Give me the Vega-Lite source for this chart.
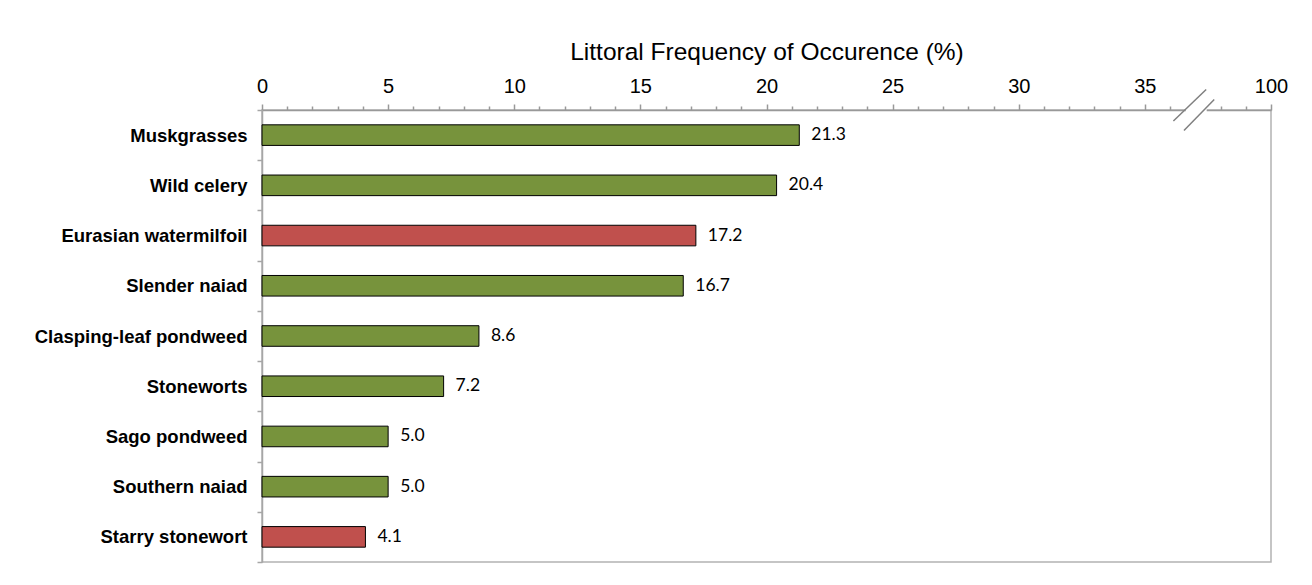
{
  "$schema": "https://vega.github.io/schema/vega-lite/v6.json",
  "width": 1009,
  "height": 452,
  "padding": {"left": 5, "top": 5, "right": 5, "bottom": 5},
  "background": "white",
  "config": {
    "font": "Liberation Sans",
    "view": {"stroke": "#b3b3b3", "strokeWidth": 1.5}
  },
  "datasets": {
    "plants": [
      {"species": "Muskgrasses", "frequency": 21.3, "status": "Native"},
      {"species": "Wild celery", "frequency": 20.4, "status": "Native"},
      {"species": "Eurasian watermilfoil", "frequency": 17.2, "status": "Invasive"},
      {"species": "Slender naiad", "frequency": 16.7, "status": "Native"},
      {"species": "Clasping-leaf pondweed", "frequency": 8.6, "status": "Native"},
      {"species": "Stoneworts", "frequency": 7.2, "status": "Native"},
      {"species": "Sago pondweed", "frequency": 5.0, "status": "Native"},
      {"species": "Southern naiad", "frequency": 5.0, "status": "Native"},
      {"species": "Starry stonewort", "frequency": 4.1, "status": "Invasive"}
    ],
    "axisBreak": [
      {"part": "slash", "x": 36.13, "x2": 37.43, "y": 441, "y2": 472.5},
      {"part": "slash", "x": 36.55, "x2": 37.75, "y": 431.5, "y2": 462.5}
    ],
    "axisGap": [
      {"x": 36.62, "x2": 37.45, "y": 452}
    ]
  },
  "resolve": {"scale": {"y": "independent"}, "axis": {"x": "independent", "y": "independent"}},
  "layer": [
    {
      "data": {"name": "plants"},
      "mark": {"type": "bar", "stroke": "black", "strokeWidth": 1, "height": {"band": 0.41}},
      "encoding": {
        "y": {
          "field": "species", "type": "nominal", "sort": null,
          "scale": {"paddingInner": 0, "paddingOuter": 0},
          "axis": {
            "title": null, "tickBand": "extent", "tickSize": 5, "labelPadding": 10,
            "labelFontSize": 18.5, "labelFontWeight": "bold", "labelColor": "black",
            "domainColor": "#a6a6a6", "domainWidth": 1.5, "tickColor": "#a6a6a6", "tickWidth": 1.5,
            "minExtent": 257, "maxExtent": 257, "labelLimit": 400
          }
        },
        "x": {
          "field": "frequency", "type": "quantitative",
          "scale": {"domain": [0, 40], "nice": false},
          "axis": {
            "orient": "top", "title": "Littoral Frequency of Occurence (%)",
            "values": [0, 5, 10, 15, 20, 25, 30, 35, 40],
            "labelExpr": "datum.value == 40 ? '100' : datum.label",
            "grid": false, "tickSize": 6, "labelPadding": 12, "labelBaseline": "alphabetic",
            "labelFontSize": 20, "labelColor": "black", "labelFlush": false,
            "domainColor": "#999999", "domainWidth": 1.5, "tickColor": "#999999", "tickWidth": 1.5,
            "titleFontSize": 24.5, "titleFontWeight": "normal", "titleColor": "black",
            "titleBaseline": "alphabetic", "titleY": -51,
            "minExtent": 105, "maxExtent": 105
          }
        },
        "color": {
          "field": "status", "type": "nominal",
          "scale": {"domain": ["Native", "Invasive"], "range": ["#77933C", "#C0504D"]},
          "legend": null
        }
      }
    },
    {
      "data": {"name": "plants"},
      "mark": {"type": "text", "align": "left", "baseline": "middle", "dx": 12, "font": "Lato", "fontSize": 17.5, "color": "black"},
      "encoding": {
        "y": {"field": "species", "type": "nominal", "sort": null, "scale": {"paddingInner": 0, "paddingOuter": 0}, "axis": null},
        "x": {"field": "frequency", "type": "quantitative", "scale": {"domain": [0, 40], "nice": false}, "axis": null},
        "text": {"field": "frequency", "type": "quantitative", "format": ".1f"}
      }
    },
    {
      "data": {"name": "axisGap"},
      "mark": {"type": "rule", "color": "white", "strokeWidth": 4, "clip": false},
      "encoding": {
        "x": {"field": "x", "type": "quantitative", "scale": {"domain": [0, 40], "nice": false}, "axis": null},
        "x2": {"field": "x2"},
        "y": {"field": "y", "type": "quantitative", "scale": {"domain": [0, 452], "nice": false, "zero": true}, "axis": null}
      }
    },
    {
      "data": {"name": "axisBreak"},
      "mark": {"type": "rule", "color": "#808080", "strokeWidth": 1.5, "clip": false},
      "encoding": {
        "x": {
          "field": "x", "type": "quantitative", "scale": {"domain": [0, 40], "nice": false},
          "axis": {
            "orient": "top", "title": null, "labels": false, "domain": false, "grid": false,
            "values": [1, 2, 3, 4, 6, 7, 8, 9, 11, 12, 13, 14, 16, 17, 18, 19, 21, 22, 23, 24, 26, 27, 28, 29, 31, 32, 33, 34, 36, 38, 39],
            "tickSize": 4, "tickColor": "#999999", "tickWidth": 1.5,
            "minExtent": 105, "maxExtent": 105
          }
        },
        "x2": {"field": "x2"},
        "y": {"field": "y", "type": "quantitative", "scale": {"domain": [0, 452], "nice": false, "zero": true}, "axis": null},
        "y2": {"field": "y2"}
      }
    }
  ]
}
